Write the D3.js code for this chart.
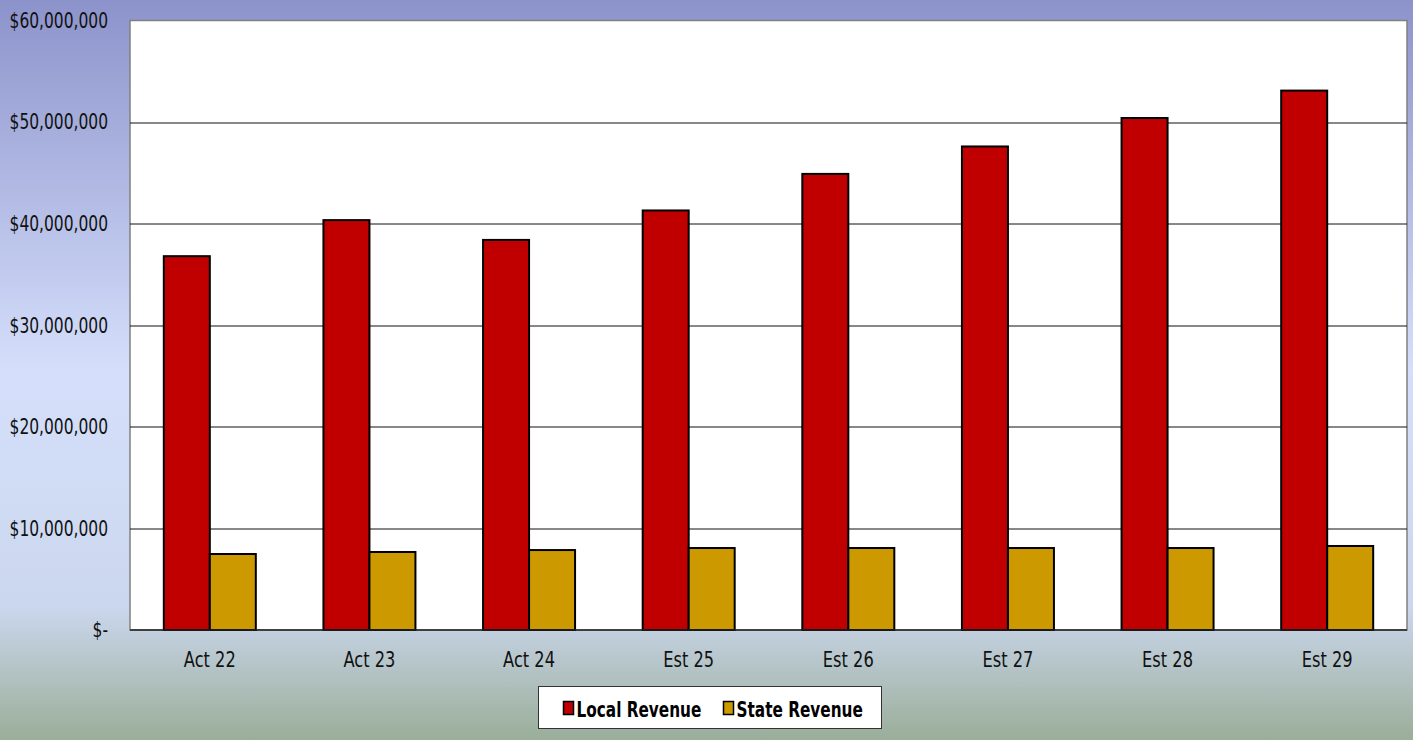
<!DOCTYPE html>
<html>
<head>
<meta charset="utf-8">
<script src="https://cdn.jsdelivr.net/npm/d3@7"></script>
<style>
  body { margin: 0; }
  svg text { font-family: "DejaVu Sans Condensed", "DejaVu Sans", sans-serif; }
</style>
</head>
<body>
<div id="chart"></div>
<script>
// chart data
const categories = ["Act 22", "Act 23", "Act 24", "Est 25", "Est 26", "Est 27", "Est 28", "Est 29"];
const seriesNames = ["Local Revenue", "State Revenue"];
const localRevenue = [36800000, 40350000, 38400000, 41300000, 44900000, 47600000, 50400000, 53100000];
const stateRevenue = [7480000, 7680000, 7870000, 8070000, 8070000, 8070000, 8070000, 8270000];
const yTicks = [0, 10000000, 20000000, 30000000, 40000000, 50000000, 60000000];
const colors = ["#c00000", "#cc9900"];

const W = 1413, H = 740;
const margin = {top: 20.5, right: 6, bottom: 110, left: 130};
const width = W - margin.left - margin.right;
const height = H - margin.top - margin.bottom;

const svg = d3.select("#chart").append("svg")
  .attr("width", W).attr("height", H);

// background gradient
const grad = svg.append("defs").append("linearGradient")
  .attr("id", "bg").attr("x1", 0).attr("y1", 0).attr("x2", 0).attr("y2", 1);
[[0, "#8c93cb"], [0.5, "#d5dffb"], [0.82, "#cbd7ee"], [1, "#9aae99"]].forEach(s => {
  grad.append("stop").attr("offset", s[0]).attr("stop-color", s[1]);
});
svg.append("rect").attr("width", W).attr("height", H).attr("fill", "url(#bg)");

const g = svg.append("g").attr("transform", "translate(" + margin.left + "," + margin.top + ")");

const x = d3.scaleBand().domain(categories).range([0, width]);
const y = d3.scaleLinear().domain([0, 60000000]).range([height, 0]);

// plot area
g.append("rect")
  .attr("width", width).attr("height", height)
  .attr("fill", "white").attr("stroke", "#808080").attr("stroke-width", 1.5);

// gridlines
g.selectAll(".grid").data(yTicks.slice(1, -1)).enter().append("line")
  .attr("x1", 0).attr("x2", width)
  .attr("y1", d => Math.round(y(d)) + 0.5).attr("y2", d => Math.round(y(d)) + 0.5)
  .attr("stroke", "#111").attr("stroke-width", 1);

// y axis labels
const fmt = d => d === 0 ? "$-" : "$" + d3.format(",")(d);
g.selectAll(".ylab").data(yTicks).enter().append("text")
  .attr("transform", d => "translate(-22," + y(d) + ") scale(0.82,1)")
  .attr("text-anchor", "end").attr("dy", "0.35em")
  .attr("font-size", 21).attr("fill", "#111")
  .text(fmt);

// x axis labels
g.selectAll(".xlab").data(categories).enter().append("text")
  .attr("transform", d => "translate(" + (x(d) + x.bandwidth() / 2) + "," + (height + 37) + ") scale(0.86,1)")
  .attr("text-anchor", "middle")
  .attr("font-size", 21).attr("fill", "#111")
  .text(d => d);

// bars
const barW = 46;
const x1 = d3.scaleBand().domain(seriesNames).range([0, barW * 2]);
const groups = g.selectAll(".cat").data(categories).enter().append("g")
  .attr("transform", d => "translate(" + (x(d) + x.bandwidth() / 2 - barW) + ",0)");

groups.append("rect")
  .attr("x", x1("Local Revenue"))
  .attr("y", (d, i) => y(localRevenue[i]))
  .attr("width", x1.bandwidth())
  .attr("height", (d, i) => height - y(localRevenue[i]))
  .attr("fill", colors[0]).attr("stroke", "black").attr("stroke-width", 2);

groups.append("rect")
  .attr("x", x1("State Revenue"))
  .attr("y", (d, i) => y(stateRevenue[i]))
  .attr("width", x1.bandwidth())
  .attr("height", (d, i) => height - y(stateRevenue[i]))
  .attr("fill", colors[1]).attr("stroke", "black").attr("stroke-width", 2);

// baseline
g.append("line").attr("x1", 0).attr("x2", width)
  .attr("y1", height).attr("y2", height)
  .attr("stroke", "#222").attr("stroke-width", 1.5);

// legend
const legend = svg.append("g").attr("transform", "translate(538.5,686.5)");
legend.append("rect").attr("width", 343).attr("height", 42)
  .attr("fill", "white").attr("stroke", "#333").attr("stroke-width", 1);
const legX = [25, 185];
seriesNames.forEach((name, i) => {
  const it = legend.append("g").attr("transform", "translate(" + legX[i] + ",0)");
  it.append("rect").attr("x", 0).attr("y", 15).attr("width", 10).attr("height", 13)
    .attr("fill", colors[i]).attr("stroke", "black").attr("stroke-width", 1.5);
  it.append("text")
    .attr("transform", "translate(13,30) scale(0.81,1)")
    .attr("font-size", 21).attr("font-weight", "bold").attr("fill", "#000")
    .text(name);
});
</script>
</body>
</html>
